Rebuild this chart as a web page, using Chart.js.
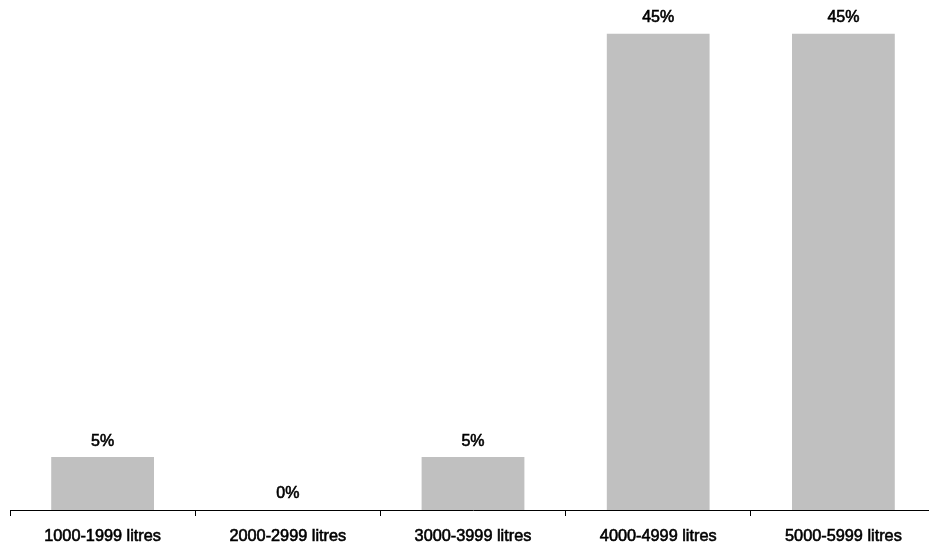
<!DOCTYPE html>
<html>
<head>
<meta charset="utf-8">
<script src="https://cdn.jsdelivr.net/npm/chart.js@4/dist/chart.umd.min.js"></script>
<style>
  html, body { margin: 0; padding: 0; background: #fff; overflow: hidden; }
  #wrap { width: 940px; height: 547px; }
</style>
</head>
<body>
<div id="wrap"><canvas id="chart"></canvas></div>
<script>
// categories and values (percent)
const categories = ["1000-1999 litres", "2000-2999 litres", "3000-3999 litres", "4000-4999 litres", "5000-5999 litres"];
const shares = [5, 0, 5, 45, 45];

// draw "x%" above every bar
const valueLabels = {
  id: "valueLabels",
  afterDatasetsDraw(chart) {
    const ctx = chart.ctx;
    const meta = chart.getDatasetMeta(0);
    ctx.save();
    ctx.font = "16px 'Liberation Sans', Arial, sans-serif";
    ctx.fillStyle = "#000";
    ctx.strokeStyle = "#000";
    ctx.lineWidth = 0.6;
    ctx.textAlign = "center";
    ctx.textBaseline = "middle";
    meta.data.forEach((bar, i) => {
      const txt = shares[i] + "%";
      ctx.fillText(txt, bar.x, bar.y - 16);
      ctx.strokeText(txt, bar.x, bar.y - 16);
    });
    ctx.restore();
  }
};

new Chart(document.getElementById("chart"), {
  type: "bar",
  plugins: [valueLabels],
  data: {
    labels: categories,
    datasets: [{
      data: shares,
      backgroundColor: "#c0c0c0",
      borderWidth: 0,
      barPercentage: 0.555,
      categoryPercentage: 1
    }]
  },
  options: {
    responsive: true,
    maintainAspectRatio: false,
    animation: false,
    layout: { padding: { left: 10, right: 4, top: 0, bottom: 0 } },
    plugins: { legend: { display: false }, tooltip: { enabled: false } },
    scales: {
      x: {
        grid: {
          offset: true,
          drawOnChartArea: false,
          drawTicks: true,
          tickLength: 6,
          color: "#000",
          lineWidth: 1
        },
        border: { display: true, color: "#000", width: 1 },
        ticks: {
          color: "#000",
          textStrokeColor: "#000",
          textStrokeWidth: 0.6,
          padding: 11,
          maxRotation: 0,
          font: { family: "'Liberation Sans', Arial, sans-serif", size: 16.3 }
        },
        afterFit(scale) { scale.height = 37; }
      },
      y: {
        display: false,
        min: 0,
        max: 48.2
      }
    }
  }
});
</script>
</body>
</html>
